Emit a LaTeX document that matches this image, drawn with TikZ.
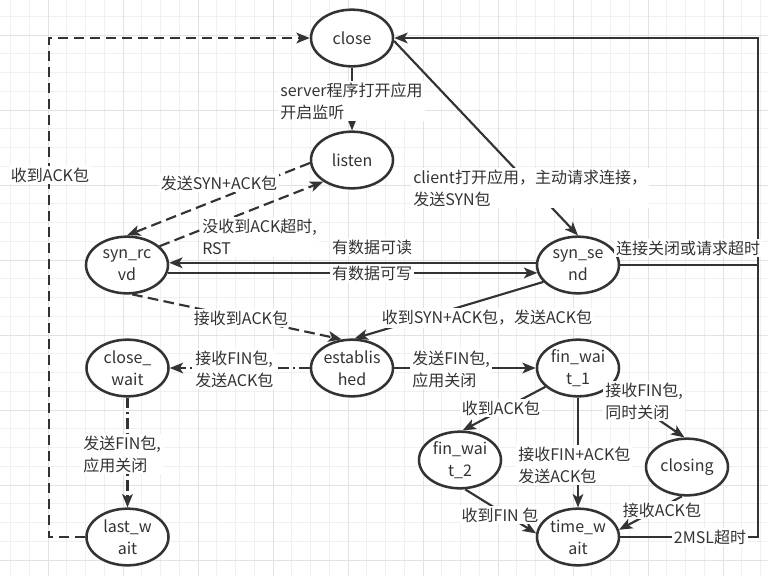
\documentclass[tikz,border=0pt]{standalone}
\usepackage{fontspec}
\setmainfont{Noto Sans CJK SC}
\usetikzlibrary{shapes.geometric,arrows.meta}
\definecolor{ink}{RGB}{51,51,51}
\definecolor{gridmin}{RGB}{240,240,240}
\definecolor{gridmaj}{RGB}{226,226,226}
\newcommand{\zw}[1]{\makebox[0pt]{#1}}
\begin{document}
\begin{tikzpicture}[x=0.75pt,y=-0.75pt,
  font=\fontsize{12}{16.5}\selectfont, text=ink,
  state/.style={ellipse,draw=ink,line width=1.9pt,minimum width=61.5pt,minimum height=42.5pt,inner sep=0pt,align=center,fill=white},
  lab/.style={fill=white,inner sep=1.5pt,align=left,text=ink},
  conn/.style={draw=ink,line width=1.6pt},
  arr/.style={conn,-{Stealth[length=10pt,width=8pt,inset=2.5pt]}},
  dsh/.style={dash pattern=on 8pt off 4pt},
  dshdot/.style={dash pattern=on 8pt off 3pt on 1.5pt off 3pt}]
\fill[white] (0,0) rectangle (768,576);
\useasboundingbox (0,0) rectangle (768,576);
% grid
\foreach \i in {-2,...,39} {\draw[gridmin,line width=0.75pt] ({48+18.75*\i},0) -- ({48+18.75*\i},576);}
\foreach \j in {-1,...,30} {\draw[gridmin,line width=0.75pt] (0,{35+18.75*\j}) -- (768,{35+18.75*\j});}
\foreach \i in {0,...,9} {\draw[gridmaj,line width=0.75pt] ({48+75*\i},0) -- ({48+75*\i},576);}
\foreach \j in {0,...,7} {\draw[gridmaj,line width=0.75pt] (0,{35+75*\j}) -- (768,{35+75*\j});}

% states
\node[state] (close) at (352,38) {close};
\node[state] (listen) at (352,160) {listen};
\node[state] (synr) at (127,265) {\zw{syn\_rc}\\\zw{vd}};
\node[state] (syns) at (578,265) {\zw{syn\_se}\\\zw{nd}};
\node[state] (cw) at (127.5,368) {\zw{close\_}\\\zw{wait}};
\node[state] (est) at (352,368) {\zw{establis}\\\zw{hed}};
\node[state] (fw1) at (578,368) {\zw{fin\_wai}\\\zw{t\_1}};
\node[state] (fw2) at (460,460) {\zw{fin\_wai}\\\zw{t\_2}};
\node[state] (closing) at (687,467) {closing};
\node[state] (tw) at (578,537) {\zw{time\_w}\\\zw{ait}};
\node[state] (lw) at (127.5,537) {\zw{last\_w}\\\zw{ait}};

% helper corners
\coordinate (ne) at (758,38);
\coordinate (e1) at (758,265);
\coordinate (e2) at (758,537);
\coordinate (sw) at (49,537);
\coordinate (nw) at (49,38);

% connectors
\draw[arr] (close) -- (listen);
\node[lab,anchor=west] (l1) at (278,101) {server程序打开应用\\开启监听};

\draw[arr] (syns) -- (e1) -- (ne) -- (close);
\draw[conn] (tw) -- (e2) -- (e1);
\node[lab] (l2) at (688,248) {连接关闭或请求超时};
\node[lab] (l3) at (710,537) {2MSL超时};

\draw[arr] (close.-4) -- (syns.north);
\node[lab,anchor=west] (l4) at (411,188) {client打开应用，主动请求连接，\\发送SYN包};

\draw[arr,dsh] (listen.184) -- (synr.north);
\draw[arr,dsh] (synr.30) -- (listen.217);
\node[lab] (l5) at (219,183) {发送SYN+ACK包};
\node[lab,anchor=west] (l6) at (200,237) {没收到ACK超时,\\RST};

\draw[arr] (syns.177) -- (synr.3);
\draw[arr] (synr.-11) -- (syns.191);
\node[lab] (l7) at (372,247) {有数据可读};
\node[lab] (l8) at (372,273) {有数据可写};

\draw[arr,dsh] (synr.-80) -- (est.110);
\node[lab] (l9) at (241,318) {接收到ACK包};
\draw[arr] (syns.206) -- (est.85);
\node[lab] (l10) at (487,318) {收到SYN+ACK包，发送ACK包};

\draw[arr,dshdot] (est) -- (cw);
\node[lab,anchor=west] (l11) at (193,369) {接收FIN包,\\发送ACK包};
\draw[arr,dshdot] (cw) -- (lw);
\node[lab,anchor=west] (l12) at (81,454) {发送FIN包,\\应用关闭};
\draw[arr,dsh] (lw) -- (sw) -- (nw) -- (close);
\node[lab] (l13) at (50,175) {收到ACK包};

\draw[arr] (est) -- (fw1);
\node[lab,anchor=west] (l14) at (410,369) {发送FIN包,\\应用关闭};
\draw[arr] (fw1.210) -- (fw2.85);
\node[lab] (l15) at (501,408) {收到ACK包};
\draw[arr] (fw1) -- (tw);
\node[lab,anchor=west] (l16) at (516,465) {接收FIN+ACK包\\发送ACK包};
\draw[arr] (fw1.-30) -- (closing.95);
\node[lab,anchor=west] (l17) at (603,401) {接收FIN包,\\同时关闭};
\draw[arr] (fw2.-80) -- (tw.175);
\node[lab] (l18) at (500,515) {收到FIN 包};
\draw[arr] (closing.-100) -- (tw.10);
\node[lab] (l19) at (662,510) {接收ACK包};
\end{tikzpicture}
\end{document}
